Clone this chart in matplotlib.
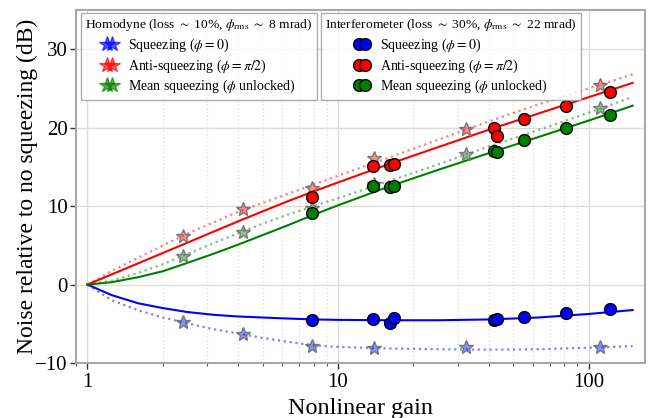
import matplotlib

matplotlib.use("Agg")
import matplotlib.pyplot as plt
from matplotlib.lines import Line2D
from matplotlib.ticker import FixedLocator, FuncFormatter, LogLocator, NullFormatter

plt.rcParams["font.family"] = ["Liberation Serif", "DejaVu Serif"]
plt.rcParams["mathtext.fontset"] = "stix"

# theory curves at these gains
gain = [1, 1.25, 1.6, 2, 2.5, 3.2, 4, 5, 6.3, 8, 10, 16, 25, 40, 63, 100, 150]
hom_sq_curve = [0, -2.0, -3.3, -4.2, -4.95, -5.7, -6.25, -6.8, -7.3, -7.75, -7.95,
                -8.15, -8.25, -8.3, -8.25, -8.05, -7.85]
hom_anti_curve = [0, 1.74, 3.45, 4.98, 6.48, 7.95, 9.27, 10.4, 11.55, 12.75, 13.87,
                  16.2, 18.45, 20.8, 22.95, 25.0, 26.8]
hom_mean_curve = [0, 0.5, 1.5, 2.6, 3.9, 5.3, 6.55, 7.75, 8.9, 10.0, 11.0,
                  13.2, 15.3, 17.6, 19.7, 21.9, 23.9]
int_sq_curve = [0, -1.35, -2.4, -3.0, -3.5, -3.86, -4.07, -4.2, -4.33, -4.45, -4.5,
                -4.55, -4.55, -4.45, -4.2, -3.75, -3.25]
int_anti_curve = [0, 1.3, 2.73, 4.03, 5.33, 6.77, 8.07, 9.33, 10.62, 11.88, 13.02,
                  15.37, 17.5, 19.74, 21.8, 23.88, 25.71]
int_mean_curve = [0, 0.3, 0.95, 1.7, 2.75, 3.95, 5.1, 6.3, 7.55, 8.9, 10.1,
                  12.5, 14.6, 16.75, 18.8, 20.9, 22.8]

# homodyne measurements (stars)
hom_gain = [2.4, 4.16, 7.87, 13.9, 32.5, 111.6]
hom_sq = [-4.8, -6.28, -7.77, -8.06, -8.0, -8.0]
hom_anti = [6.24, 9.64, 12.3, 16.1, 19.8, 25.5]
hom_mean = [3.69, 6.75, 9.77, 12.8, 16.6, 22.5]

# interferometer measurements (circles)
int_gain = [7.87, 13.8, 16.2, 16.8, 42.1, 43.2, 55.5, 81.6, 122.3]
int_sq = [-4.5, -4.45, -4.88, -4.29, -4.5, -4.37, -4.16, -3.66, -3.15]
int_anti = [11.1, 15.15, 15.25, 15.33, 19.96, 18.98, 21.1, 22.7, 24.6]
int_mean = [9.1, 12.6, 12.44, 12.52, 16.98, 16.86, 18.43, 19.92, 21.66]

labels = [r"Squeezing ($\phi = 0$)", r"Anti-squeezing ($\phi = \pi/2$)",
          r"Mean squeezing ($\phi$ unlocked)"]
colors = ["blue", "red", "green"]

fig = plt.figure(figsize=(6.49, 4.18), dpi=100)
ax = fig.add_axes([76 / 649, 55 / 418, 569 / 649, 353 / 418])

hom_curves = [hom_sq_curve, hom_anti_curve, hom_mean_curve]
int_curves = [int_sq_curve, int_anti_curve, int_mean_curve]
hom_pts = [hom_sq, hom_anti, hom_mean]
int_pts = [int_sq, int_anti, int_mean]

for color, curve in zip(colors, hom_curves):
    ax.plot(gain, curve, ls=":", lw=1.6, color=color, alpha=0.5, zorder=2)
for color, curve in zip(colors, int_curves):
    ax.plot(gain, curve, ls="-", lw=1.5, color=color, zorder=2)
for color, pts in zip(colors, hom_pts):
    ax.plot(hom_gain, pts, ls="none", marker="*", ms=10, mec="#777777", mew=1,
            mfc=matplotlib.colors.to_rgba(color, 0.45), zorder=3)
for color, pts in zip(colors, int_pts):
    ax.plot(int_gain, pts, ls="none", marker="o", ms=8.5, mec="black", mew=1,
            mfc=color, zorder=4)

ax.set_xscale("log")
ax.set_xlim(0.9, 168)
ax.set_ylim(-10, 35)
ax.xaxis.set_major_locator(FixedLocator([1, 10, 100]))
ax.xaxis.set_major_formatter(FuncFormatter(lambda v, _: f"{v:g}"))
ax.xaxis.set_minor_locator(LogLocator(base=10, subs=range(2, 10)))
ax.xaxis.set_minor_formatter(NullFormatter())
ax.set_yticks([-10, 0, 10, 20, 30])

ax.grid(which="major", color="#dcdcdc", lw=1, zorder=0)
ax.grid(which="minor", axis="x", color="#e2e2e2", ls=":", lw=1, zorder=0)
ax.set_axisbelow(True)
for spine in ax.spines.values():
    spine.set_color("#a8a8a8")
    spine.set_linewidth(1.5)
ax.tick_params(which="major", length=4, width=1, color="#333333", labelsize=15)
ax.tick_params(axis="y", pad=2)
ax.tick_params(which="minor", length=2, width=0.8, color="#555555")

ax.set_xlabel("Nonlinear gain", fontsize=17.5, labelpad=4)
ax.set_ylabel("Noise relative to no squeezing (dB)", fontsize=17)
ax.yaxis.set_label_coords(-0.066, 0.5)

hom_handles = [Line2D([], [], ls="none", marker="*", ms=11.5, color=c, alpha=0.65)
               for c in colors]
int_handles = [Line2D([], [], ls="none", marker="o", ms=8.5, mfc=c, mec="black")
               for c in colors]

leg_kw = dict(loc="upper left", numpoints=2, handlelength=1.0, borderaxespad=0,
              labelspacing=0.25, borderpad=0.3, fancybox=False,
              edgecolor="#999999", fontsize=10, title_fontsize=9.7)
leg1 = ax.legend(hom_handles, labels, bbox_to_anchor=(0.009, 0.992),
                 title=r"Homodyne (loss $\sim$ 10%, $\phi_{\mathrm{rms}}$ $\sim$ 8 mrad)",
                 **leg_kw)
ax.add_artist(leg1)
ax.legend(int_handles, labels, bbox_to_anchor=(0.431, 0.992),
          title=r"Interferometer (loss $\sim$ 30%, $\phi_{\mathrm{rms}}$ $\sim$ 22 mrad)",
          **leg_kw)

fig.savefig("out.png", dpi=100)
